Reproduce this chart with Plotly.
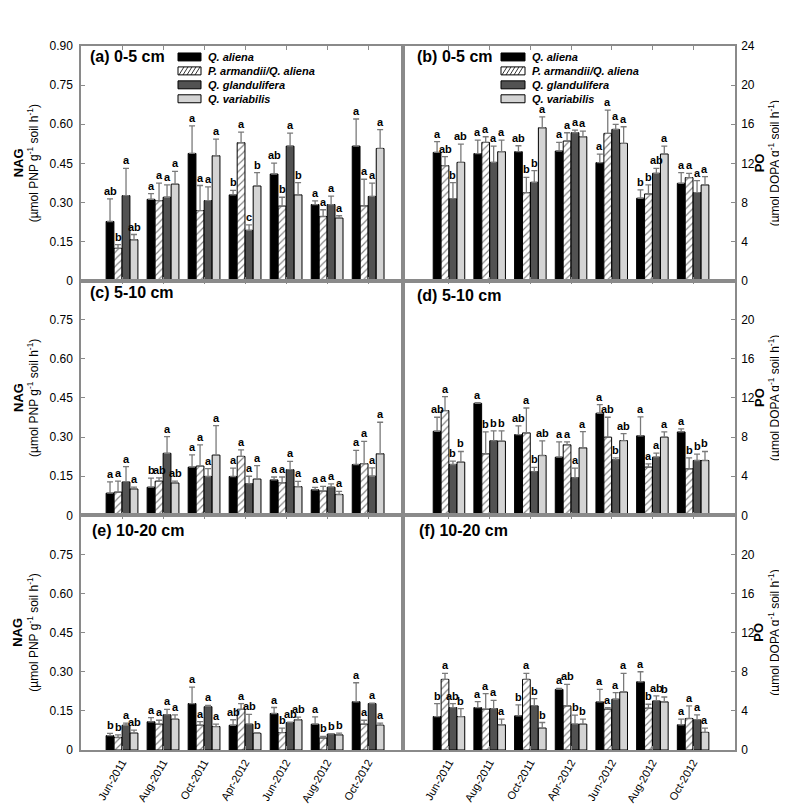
import plotly.graph_objects as go

months = ["Jun-2011", "Aug-2011", "Oct-2011", "Apr-2012", "Jun-2012", "Aug-2012", "Oct-2012"]
species = ["Q. aliena", "P. armandii/Q. aliena", "Q. glandulifera", "Q. variabilis"]

# order of series in each list: Q. aliena, P. armandii/Q. aliena, Q. glandulifera, Q. variabilis
# (a) NAG 0-5 cm
a_mean = [[0.227, 0.312, 0.488, 0.329, 0.409, 0.292, 0.516],
          [0.124, 0.307, 0.269, 0.529, 0.286, 0.246, 0.287],
          [0.326, 0.320, 0.307, 0.193, 0.516, 0.292, 0.323],
          [0.157, 0.370, 0.479, 0.363, 0.329, 0.240, 0.507]]
a_se = [[0.087, 0.022, 0.106, 0.017, 0.042, 0.014, 0.104],
        [0.014, 0.067, 0.096, 0.041, 0.034, 0.026, 0.102],
        [0.105, 0.047, 0.053, 0.021, 0.050, 0.032, 0.051],
        [0.020, 0.049, 0.064, 0.051, 0.047, 0.009, 0.072]]
a_sig = [["ab", "a", "a", "b", "ab", "a", "a"],
         ["b", "a", "a", "a", "b", "a", "a"],
         ["a", "a", "a", "c", "a", "a", "a"],
         ["ab", "a", "a", "b", "b", "a", "a"]]

# (b) PO 0-5 cm
b_mean = [[13.12, 13.00, 13.19, 13.26, 12.07, 8.43, 9.96],
          [11.76, 14.14, 9.00, 14.28, 15.06, 8.87, 10.54],
          [8.36, 12.10, 10.06, 15.13, 15.47, 10.98, 9.00],
          [12.10, 13.19, 15.64, 14.72, 14.04, 12.95, 9.79]]
b_se = [[1.09, 1.38, 0.61, 0.88, 0.88, 0.85, 1.09],
        [0.92, 0.58, 1.57, 0.85, 2.38, 0.92, 0.44],
        [1.67, 1.67, 1.19, 0.27, 0.51, 0.51, 1.23],
        [1.87, 1.19, 1.12, 0.58, 1.70, 0.82, 0.85]]
b_sig = [["a", "a", "ab", "a", "a", "b", "a"],
         ["ab", "a", "b", "a", "a", "b", "a"],
         ["b", "a", "b", "a", "a", "ab", "a"],
         ["ab", "a", "a", "a", "a", "a", "a"]]

# (c) NAG 5-10 cm
c_mean = [[0.085, 0.108, 0.185, 0.149, 0.136, 0.098, 0.195],
          [0.089, 0.131, 0.189, 0.226, 0.125, 0.093, 0.198],
          [0.128, 0.238, 0.149, 0.121, 0.175, 0.108, 0.150],
          [0.101, 0.124, 0.231, 0.139, 0.110, 0.080, 0.236]]
c_se = [[0.043, 0.035, 0.047, 0.032, 0.011, 0.009, 0.054],
        [0.042, 0.013, 0.081, 0.025, 0.022, 0.018, 0.086],
        [0.059, 0.064, 0.030, 0.029, 0.032, 0.013, 0.032],
        [0.007, 0.007, 0.113, 0.052, 0.020, 0.012, 0.121]]
c_sig = [["a", "b", "a", "a", "a", "a", "a"],
         ["a", "ab", "a", "a", "a", "a", "a"],
         ["a", "a", "a", "a", "a", "a", "a"],
         ["a", "ab", "a", "a", "a", "a", "a"]]

# (d) PO 5-10 cm
d_mean = [[8.60, 11.46, 8.26, 5.95, 10.44, 8.13, 8.53],
          [10.71, 6.29, 8.43, 7.21, 7.99, 4.93, 4.76],
          [5.20, 7.62, 4.45, 3.84, 5.68, 5.95, 5.61],
          [5.44, 7.58, 6.12, 6.90, 7.65, 7.99, 5.61]]
d_se = [[1.43, 0.06, 0.89, 1.56, 0.88, 1.93, 0.31],
        [1.43, 2.24, 2.55, 0.30, 2.04, 0.34, 1.12],
        [0.34, 1.02, 0.45, 0.99, 0.20, 0.41, 0.65],
        [1.09, 1.06, 1.50, 1.67, 0.71, 0.54, 0.92]]
d_sig = [["ab", "a", "ab", "a", "a", "a", "a"],
         ["a", "b", "a", "a", "ab", "a", "b"],
         ["b", "b", "b", "a", "b", "a", "b"],
         ["b", "b", "ab", "a", "ab", "a", "b"]]

# (e) NAG 10-20 cm
e_mean = [[0.055, 0.108, 0.178, 0.095, 0.140, 0.099, 0.185],
          [0.048, 0.099, 0.095, 0.156, 0.067, 0.046, 0.099],
          [0.095, 0.135, 0.166, 0.099, 0.105, 0.061, 0.178],
          [0.065, 0.118, 0.090, 0.064, 0.116, 0.058, 0.095]]
e_se = [[0.009, 0.016, 0.063, 0.021, 0.023, 0.028, 0.073],
        [0.010, 0.015, 0.014, 0.022, 0.017, 0.006, 0.015],
        [0.008, 0.021, 0.005, 0.038, 0.002, 0.001, 0.002],
        [0.011, 0.017, 0.009, 0.003, 0.010, 0.007, 0.008]]
e_sig = [["b", "a", "a", "ab", "a", "a", "a"],
         ["b", "a", "a", "a", "b", "b", "a"],
         ["a", "a", "a", "ab", "ab", "b", "a"],
         ["ab", "a", "a", "b", "ab", "b", "a"]]

# (f) PO 10-20 cm
f_mean = [[3.42, 4.34, 3.49, 6.20, 4.92, 6.98, 2.58],
          [7.22, 4.17, 7.22, 4.51, 4.17, 4.27, 3.22],
          [4.34, 4.24, 4.51, 2.64, 5.19, 5.02, 3.08],
          [3.42, 2.58, 2.24, 2.64, 5.93, 4.92, 1.80]]
f_se = [[1.33, 0.61, 1.12, 0.11, 1.28, 1.02, 0.57],
        [0.61, 1.59, 0.61, 2.20, 0.17, 0.41, 1.29],
        [0.41, 0.84, 0.74, 0.92, 0.67, 0.51, 0.51],
        [0.82, 0.57, 0.57, 0.51, 1.90, 0.50, 0.44]]
f_sig = [["b", "a", "b", "a", "a", "a", "a"],
         ["a", "a", "a", "ab", "a", "b", "a"],
         ["ab", "a", "b", "b", "a", "ab", "a"],
         ["b", "a", "b", "b", "a", "b", "a"]]

panel_titles = ["(a) 0-5 cm", "(b) 0-5 cm", "(c) 5-10 cm", "(d) 5-10 cm", "(e) 10-20 cm", "(f) 10-20 cm"]
nag_ticks = [0, 0.15, 0.30, 0.45, 0.60, 0.75, 0.90]
nag_ticktext = ["0", "0.15", "0.30", "0.45", "0.60", "0.75", "0.90"]
po_ticks = [0, 4, 8, 12, 16, 20, 24]

FONT = "Arial, 'Liberation Sans', sans-serif"
colors = ["#000000", "#ffffff", "#525252", "#d4d4d4"]
AXC = "#8a8a8a"

# pixel geometry helpers (figure 787x809)
L, R, T, B = 73, 727, 38, 745
W, H = R - L, B - T
def px(x):
    return (x - L) / W
def py(y):
    return (B - y) / H

xsplit = px(395)
panels = [
    (a_mean, a_se, a_sig, 1, 0),
    (b_mean, b_se, b_sig, 1, 1),
    (c_mean, c_se, c_sig, 2, 0),
    (d_mean, d_se, d_sig, 2, 1),
    (e_mean, e_se, e_sig, 3, 0),
    (f_mean, f_se, f_sig, 3, 1),
]

BW = 0.19
STEP = 0.195

fig = go.Figure()
annotations = []
layout_axes = {}
for p, (means, ses, sigs, row, col) in enumerate(panels):
    n = p + 1
    xa = "x" if n == 1 else f"x{n}"
    ya = "y" if n == 1 else f"y{n}"
    for k in range(4):
        off = -2 * STEP + k * STEP + (STEP - BW) / 2
        marker = dict(color=colors[k], line=dict(color="#000000", width=1))
        if k == 1:
            marker["pattern"] = dict(shape="/", fgcolor="#000000", bgcolor="#ffffff",
                                     size=5, solidity=0.22)
        fig.add_trace(go.Bar(
            x=list(range(len(months))), y=means[k], width=BW, offset=off,
            marker=marker, name=species[k], showlegend=False,
            error_y=dict(type="data", array=ses[k], arrayminus=[0] * len(months),
                         symmetric=False, color="#7a7a7a", thickness=1.3, width=3),
            xaxis=xa, yaxis=ya))
        for i in range(len(months)):
            annotations.append(dict(
                x=i + off + BW / 2, y=means[k][i] + ses[k][i], xref=xa, yref=ya,
                text=f"<b>{sigs[k][i]}</b>", showarrow=False, yanchor="bottom",
                yshift=0, font=dict(family=FONT, size=11, color="#000000")))
    ydom = [(3 - row) / 3, (4 - row) / 3]
    xdom = [0, xsplit] if col == 0 else [xsplit, 1]
    xkey = "xaxis" if n == 1 else f"xaxis{n}"
    ykey = "yaxis" if n == 1 else f"yaxis{n}"
    layout_axes[xkey] = dict(
        domain=xdom, anchor=ya, range=[-1.0, 6.85] if col == 0 else [-1.13, 7.03],
        tickvals=list(range(len(months))), ticktext=months,
        showticklabels=(row == 3), tickangle=-60, ticks="inside", ticklen=4,
        tickcolor=AXC, showline=True, linecolor=AXC, linewidth=1.5, mirror="allticks",
        showgrid=False, zeroline=False,
        tickfont=dict(family=FONT, size=11, color="#000000"))
    if col == 0:
        tv = nag_ticks if row == 1 else nag_ticks[:-1]
        tt = nag_ticktext if row == 1 else nag_ticktext[:-1]
        layout_axes[ykey] = dict(
            domain=ydom, anchor=xa, range=[0, 0.9], tickvals=tv, ticktext=tt,
            side="left", ticks="inside", ticklen=4, tickcolor=AXC,
            showline=True, linecolor=AXC, linewidth=1.5, mirror=True,
            showgrid=False, zeroline=False, ticklabelstandoff=4,
            tickfont=dict(family=FONT, size=12, color="#000000"))
    else:
        tv = po_ticks if row == 1 else po_ticks[:-1]
        layout_axes[ykey] = dict(
            domain=ydom, anchor=xa, range=[0, 24], tickvals=tv,
            ticktext=[str(v) for v in tv],
            side="right", ticks="inside", ticklen=4, tickcolor=AXC,
            showline=True, linecolor=AXC, linewidth=1.5, mirror=True,
            showgrid=False, zeroline=False, ticklabelstandoff=2,
            tickfont=dict(family=FONT, size=12, color="#000000"))

# panel titles
title_pos = [(80, 49), (407, 49), (80, 286), (407, 289), (82, 525), (409, 525)]
for t, (tx, ty) in zip(panel_titles, title_pos):
    annotations.append(dict(x=px(tx), y=py(ty), xref="paper", yref="paper",
                            text=f"<b>{t}</b>", showarrow=False, xanchor="left",
                            yanchor="middle", font=dict(family=FONT, size=16, color="#000000")))

# y-axis titles (two lines each, drawn as separate rotated texts)
for r in range(3):
    yc = py(T + H * (r + 0.5) / 3)
    for (xc, txt, sz) in [
        (10, "<b>NAG</b>", 13),
        (25, "(µmol PNP g<sup>-1</sup> soil h<sup>-1</sup>)", 12),
        (751, "<b>PO</b>", 13),
        (766, "(µmol DOPA g<sup>-1</sup> soil h<sup>-1</sup>)", 12),
    ]:
        annotations.append(dict(
            x=px(xc), y=yc, xref="paper", yref="paper", xanchor="center", yanchor="middle",
            text=txt, textangle=-90, showarrow=False,
            font=dict(family=FONT, size=sz, color="#000000")))

# manual legends in panels (a) and (b)
shapes = []
row_y = [49, 63, 77, 91]
for (sx0, sx1, tx) in [(170, 193, 198), (493, 517, 522)]:
    for k in range(4):
        yc = row_y[k]
        shapes.append(dict(type="rect", xref="paper", yref="paper",
                           x0=px(sx0), x1=px(sx1), y0=py(yc + 4), y1=py(yc - 4),
                           fillcolor=colors[k], line=dict(color="#000000", width=1)))
        if k == 1:
            for hx in range(sx0 + 1, sx1 - 4, 4):
                shapes.append(dict(type="line", xref="paper", yref="paper",
                                   x0=px(hx), y0=py(yc + 4), x1=px(hx + 5), y1=py(yc - 4),
                                   line=dict(color="#000000", width=0.8)))
        annotations.append(dict(x=px(tx), y=py(yc), xref="paper", yref="paper",
                                text=f"<b><i>{species[k]}</i></b>", showarrow=False,
                                xanchor="left", yanchor="middle",
                                font=dict(family=FONT, size=11, color="#000000")))

fig.update_layout(
    width=787, height=809, autosize=False,
    margin=dict(l=L, r=787 - R, t=T, b=809 - B),
    paper_bgcolor="#ffffff", plot_bgcolor="#ffffff",
    barmode="overlay", showlegend=False,
    annotations=annotations, shapes=shapes,
    font=dict(family=FONT, color="#000000"),
    **layout_axes)

fig.write_html("out.html")
